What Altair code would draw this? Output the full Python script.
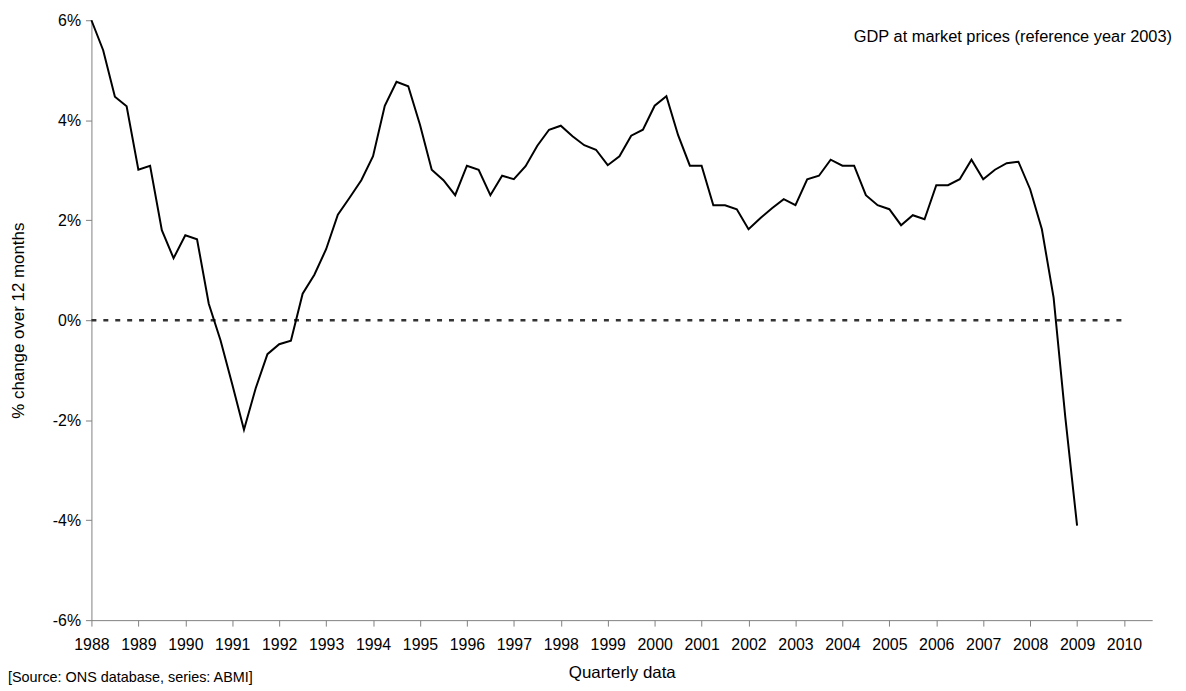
import altair as alt
import pandas as pd

# Quarterly data, 1988 Q1 .. 2009 Q1 (% change over 12 months)
years = [1988]*4 + [1989]*4 + [1990]*4 + [1991]*4 + [1992]*4 + [1993]*4 + [1994]*4 + \
        [1995]*4 + [1996]*4 + [1997]*4 + [1998]*4 + [1999]*4 + [2000]*4 + [2001]*4 + \
        [2002]*4 + [2003]*4 + [2004]*4 + [2005]*4 + [2006]*4 + [2007]*4 + [2008]*4 + [2009]
quarters = [1, 2, 3, 4] * 21 + [1]
growth = [
    6.00, 5.40, 4.47, 4.28,
    3.01, 3.09, 1.80, 1.24,
    1.70, 1.62, 0.33, -0.40,
    -1.28, -2.19, -1.36, -0.68,
    -0.48, -0.41, 0.53, 0.91,
    1.42, 2.11, 2.45, 2.80,
    3.28, 4.29, 4.77, 4.68,
    3.91, 3.01, 2.80, 2.50,
    3.09, 3.01, 2.50, 2.89,
    2.82, 3.08, 3.49, 3.81,
    3.89, 3.68, 3.50, 3.41,
    3.10, 3.28, 3.69, 3.81,
    4.29, 4.48, 3.70, 3.09,
    3.09, 2.30, 2.30, 2.22,
    1.82, 2.04, 2.24, 2.42,
    2.30, 2.82, 2.89, 3.21,
    3.09, 3.09, 2.50, 2.30,
    2.22, 1.90, 2.10, 2.02,
    2.70, 2.70, 2.82, 3.21,
    2.82, 3.01, 3.14, 3.17,
    2.62, 1.82, 0.45, -1.95,
    -4.11,
]
year_ticks = list(range(1988, 2011))
pct_ticks = [-6, -4, -2, 0, 2, 4, 6]

chart_title = "GDP at market prices (reference year 2003)"
source_note = "[Source: ONS database, series: ABMI]"

df = pd.DataFrame({
    "year": years,
    "quarter": quarters,
    "growth": growth,
})
df["t"] = df["year"] + (df["quarter"] - 1) / 4.0

FONT = "Liberation Sans"

x_scale = alt.Scale(domain=[1988, 2010.6], nice=False, zero=False)
y_scale = alt.Scale(domain=[-6, 6], nice=False)

x_axis = alt.Axis(
    values=year_ticks, format="d", grid=False,
    domainColor="#808080", tickColor="#808080", tickSize=6,
    labelFontSize=16, labelPadding=11, labelColor="black", labelFlush=False,
    labelOverlap=False,
    title="Quarterly data", titleFontSize=17, titleFontWeight="normal",
    titleColor="black", titlePadding=12,
)
y_axis = alt.Axis(
    values=pct_ticks, labelExpr="datum.value + '%'", grid=False,
    domainColor="#808080", tickColor="#808080", tickSize=6,
    labelFontSize=16, labelPadding=5, labelColor="black",
    title="% change over 12 months", titleFontSize=17, titleFontWeight="normal",
    titleColor="black", titleX=-64, titleY=302, titleAngle=-90,
    titleAlign="center", titleBaseline="bottom",
)

line = alt.Chart(df).mark_line(color="black", strokeWidth=2).encode(
    x=alt.X("t:Q", scale=x_scale, axis=x_axis),
    y=alt.Y("growth:Q", scale=y_scale, axis=y_axis),
)

zero_df = pd.DataFrame({"x0": [1988], "x1": [2010], "y": [0]})
zero = alt.Chart(zero_df).mark_rule(
    color="#333333", strokeWidth=2.5, strokeDash=[5, 7]
).encode(
    x=alt.X("x0:Q", scale=x_scale),
    x2="x1:Q",
    y=alt.Y("y:Q", scale=y_scale),
)

title_df = pd.DataFrame({"label": [chart_title]})
title_txt = alt.Chart(title_df).mark_text(
    align="right", baseline="middle", fontSize=16.5, font=FONT, color="black"
).encode(x=alt.value(1088), y=alt.value(17), text="label:N")

src_df = pd.DataFrame({"label": [source_note]})
src_txt = alt.Chart(src_df).mark_text(
    align="left", baseline="middle", fontSize=14.5, font=FONT, color="black"
).encode(x=alt.value(-84), y=alt.value(662), text="label:N")

chart = alt.layer(zero, line, title_txt, src_txt).properties(
    width=1068,
    height=604,
    autosize=alt.AutoSizeParams(type="none"),
    padding={"left": 84, "top": 10, "right": 26, "bottom": 67},
).configure(
    font=FONT,
).configure_view(
    stroke=None,
)

chart.save("out.html", embed_options={"renderer": "svg", "actions": False})
